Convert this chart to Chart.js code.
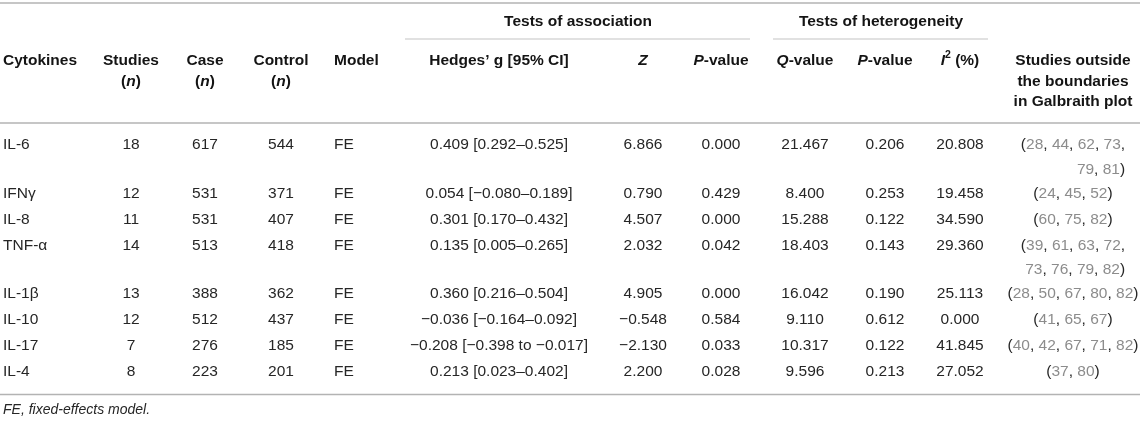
<!DOCTYPE html>
<html><head><meta charset="utf-8">
<script src="https://cdn.jsdelivr.net/npm/chart.js@4.4.1/dist/chart.umd.min.js"></script>
<style>html,body{margin:0;padding:0;background:#fff}#wrap{width:1143px;height:421px;position:relative}</style>
</head><body><div id="wrap"><canvas id="c"></canvas></div>
<script>
// ---------- data ----------
const cytokines = ['IL-6', 'IFN\u03b3', 'IL-8', 'TNF-\u03b1', 'IL-1\u03b2', 'IL-10', 'IL-17', 'IL-4'];
const studies = [18, 12, 11, 14, 13, 12, 7, 8];
const cases = [617, 531, 531, 513, 388, 512, 276, 223];
const controls = [544, 371, 407, 418, 362, 437, 185, 201];
const models = ['FE', 'FE', 'FE', 'FE', 'FE', 'FE', 'FE', 'FE'];
const hedgesG = [0.409, 0.054, 0.301, 0.135, 0.360, -0.036, -0.208, 0.213];
const ciLow = [0.292, -0.080, 0.170, 0.005, 0.216, -0.164, -0.398, 0.023];
const ciHigh = [0.525, 0.189, 0.432, 0.265, 0.504, 0.092, -0.017, 0.402];
const zValues = [6.866, 0.790, 4.507, 2.032, 4.905, -0.548, -2.130, 2.200];
const pAssoc = [0.000, 0.429, 0.000, 0.042, 0.000, 0.584, 0.033, 0.028];
const qValues = [21.467, 8.400, 15.288, 18.403, 16.042, 9.110, 10.317, 9.596];
const pHet = [0.206, 0.253, 0.122, 0.143, 0.190, 0.612, 0.122, 0.213];
const i2Values = [20.808, 19.458, 34.590, 29.360, 25.113, 0.000, 41.845, 27.052];
const outlierStudies = [[28, 44, 62, 73, 79, 81], [24, 45, 52], [60, 75, 82], [39, 61, 63, 72, 73, 76, 79, 82], [28, 50, 67, 80, 82], [41, 65, 67], [40, 42, 67, 71, 82], [37, 80]];
const outlierFirstLineCount = [4, 3, 3, 4, 5, 3, 5, 2];
const footnote = 'FE, fixed-effects model.';

// ---------- style ----------
const FONT = '"Liberation Sans", Arial, Helvetica, sans-serif';
const FS = 15.5;
const TEXT = '#262626', HEAD = '#141414', REF = '#8c8c8c';

function num(v) { return v < 0 ? '\u2212' + Math.abs(v).toFixed(3) : v.toFixed(3); }
function ciText(g, l, h) { return num(g) + ' [' + num(l) + (h < 0 ? ' to ' : '\u2013') + num(h) + ']'; }
const S = (t, o) => Object.assign({ t: t }, o || {});
const B = t => S(t, { bold: true, color: HEAD });
const BI = t => S(t, { bold: true, italic: true, color: HEAD });

function refLines(list, k) {
  const l1 = [S('(')], l2 = [];
  list.forEach((n, i) => {
    const target = i < k ? l1 : l2;
    target.push(S(String(n), { color: REF }));
    if (i < list.length - 1) target.push(S(i === k - 1 ? ',' : ', '));
    else target.push(S(')'));
  });
  return l2.length ? [l1, l2] : [l1];
}

const lineCounts = outlierStudies.map((l, i) => l.length > outlierFirstLineCount[i] ? 2 : 1);
const rowY = [];
lineCounts.forEach((lc, i) => { rowY.push(i === 0 ? 145 : rowY[i - 1] + 26 + 22.5 * (lineCounts[i - 1] - 1)); });

const columns = [
  { x: 3, align: 'left', head: [[B('Cytokines')]], cell: r => [[S(cytokines[r])]] },
  { x: 131, align: 'center', head: [[B('Studies')], [B('('), BI('n'), B(')')]], cell: r => [[S(String(studies[r]))]] },
  { x: 205, align: 'center', head: [[B('Case')], [B('('), BI('n'), B(')')]], cell: r => [[S(String(cases[r]))]] },
  { x: 281, align: 'center', head: [[B('Control')], [B('('), BI('n'), B(')')]], cell: r => [[S(String(controls[r]))]] },
  { x: 334, align: 'left', head: [[B('Model')]], cell: r => [[S(models[r])]] },
  { x: 499, align: 'center', head: [[B('Hedges\u2019 g [95% CI]')]], cell: r => [[S(ciText(hedgesG[r], ciLow[r], ciHigh[r]))]] },
  { x: 643, align: 'center', head: [[BI('Z')]], cell: r => [[S(num(zValues[r]))]] },
  { x: 721, align: 'center', head: [[BI('P'), B('-value')]], cell: r => [[S(num(pAssoc[r]))]] },
  { x: 805, align: 'center', head: [[BI('Q'), B('-value')]], cell: r => [[S(num(qValues[r]))]] },
  { x: 885, align: 'center', head: [[BI('P'), B('-value')]], cell: r => [[S(num(pHet[r]))]] },
  { x: 960, align: 'center', head: [[BI('I'), S('2', { bold: true, color: HEAD, sup: true }), B(' (%)')]], cell: r => [[S(num(i2Values[r]))]] },
  { x: 1073, align: 'center', head: [[B('Studies outside')], [B('the boundaries')], [B('in Galbraith plot')]], cell: r => refLines(outlierStudies[r], outlierFirstLineCount[r]), refs: true }
];

function fontOf(s, size) {
  const sz = s.sup ? 10.5 : (size || FS);
  return (s.italic ? 'italic ' : '') + (s.bold ? 'bold ' : '') + sz + 'px ' + FONT;
}
function widthOf(ctx, segs, size) {
  let w = 0; segs.forEach(s => { ctx.font = fontOf(s, size); w += ctx.measureText(s.t).width; }); return w;
}
function drawRich(ctx, segs, x, y, align, size) {
  const w = widthOf(ctx, segs, size);
  let cx = align === 'center' ? x - w / 2 : align === 'right' ? x - w : x;
  segs.forEach(s => {
    ctx.font = fontOf(s, size);
    ctx.fillStyle = s.color || TEXT;
    ctx.fillText(s.t, cx, s.sup ? y - 6 : y);
    cx += ctx.measureText(s.t).width;
  });
  return { left: x - (align === 'center' ? w / 2 : 0), right: (align === 'center' ? x + w / 2 : x + w) };
}

const tablePlugin = {
  id: 'table',
  afterDatasetsDraw(chart) {
    const ctx = chart.ctx, xs = chart.scales.x, ys = chart.scales.y;
    const X = v => xs.getPixelForValue(v), Y = v => ys.getPixelForValue(v);
    ctx.save();
    ctx.textBaseline = 'middle';
    const rule = (y, x0, x1, color, w) => {
      ctx.beginPath(); ctx.strokeStyle = color; ctx.lineWidth = w;
      ctx.moveTo(X(x0), Y(y)); ctx.lineTo(X(x1), Y(y)); ctx.stroke();
    };
    rule(3, 0, 1140, '#b3b3b3', 1.5);
    rule(123, 0, 1140, '#b3b3b3', 1.5);
    rule(394.5, 0, 1140, '#b3b3b3', 1.5);
    rule(39, 405, 750, '#c4c4c4', 1.2);
    rule(39, 773, 988, '#c4c4c4', 1.2);
    drawRich(ctx, [B('Tests of association')], X(578), Y(22), 'center');
    drawRich(ctx, [B('Tests of heterogeneity')], X(881), Y(22), 'center');
    columns.forEach(col => {
      col.head.forEach((line, li) => drawRich(ctx, line, X(col.x), Y(61 + 20.5 * li), col.align));
    });
    chart.data.datasets.forEach((ds, di) => {
      const col = columns[di];
      const meta = chart.getDatasetMeta(di);
      meta.data.forEach((el, r) => {
        const lines = col.cell(r);
        let first = null;
        lines.forEach((line, li) => {
          const yy = el.y + li * 24.5;
          if (li === 0) first = drawRich(ctx, line, el.x, yy, col.align);
          else drawRich(ctx, line, col.refs ? first.right : el.x, yy, col.refs ? 'right' : col.align);
        });
      });
    });
    drawRich(ctx, [S(footnote, { italic: true })], X(3), Y(410), 'left', 14);
    ctx.restore();
  }
};

new Chart(document.getElementById('c'), {
  type: 'scatter',
  data: {
    datasets: columns.map(col => ({
      data: cytokines.map((_, r) => ({ x: col.x, y: rowY[r] })),
      pointRadius: 0, pointHoverRadius: 0
    }))
  },
  options: {
    responsive: true, maintainAspectRatio: false, animation: false,
    layout: { padding: 0 },
    events: [],
    plugins: { legend: { display: false }, tooltip: { enabled: false } },
    scales: {
      x: { type: 'linear', min: 0, max: 1143, display: false },
      y: { type: 'linear', min: 0, max: 421, reverse: true, display: false }
    }
  },
  plugins: [tablePlugin]
});
</script>
</body></html>
